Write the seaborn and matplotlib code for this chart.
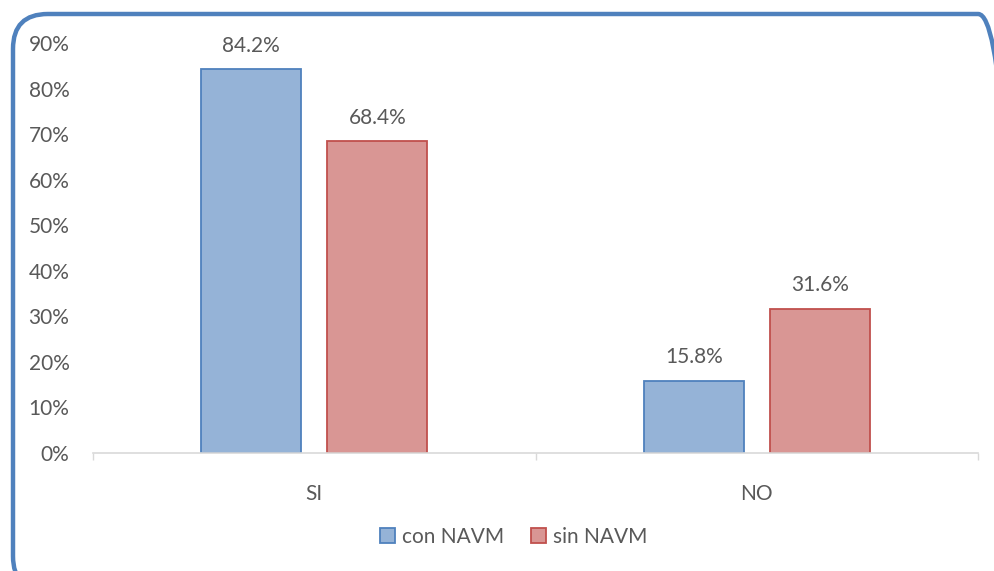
import matplotlib
matplotlib.use("Agg")
import matplotlib.pyplot as plt
from matplotlib.patches import FancyBboxPatch, Patch
from matplotlib.ticker import PercentFormatter, FixedLocator
import seaborn as sns
import pandas as pd

categories = ["SI", "NO"]
series_names = ["con NAVM", "sin NAVM"]
con_navm = [84.2, 15.8]
sin_navm = [68.4, 31.6]
y_ticks = [0, 10, 20, 30, 40, 50, 60, 70, 80, 90]

fills = {"con NAVM": "#95B3D7", "sin NAVM": "#D99694"}
edges = {"con NAVM": "#4F81BD", "sin NAVM": "#C0504D"}
text_color = "#595959"
axis_color = "#D9D9D9"
fs = 15

df = pd.DataFrame({
    "categoria": categories * 2,
    "grupo": [series_names[0]] * 2 + [series_names[1]] * 2,
    "valor": con_navm + sin_navm,
})

sns.set_theme(style="white")
plt.rcParams["font.family"] = ["Lato", "DejaVu Sans"]

fig = plt.figure(figsize=(9.95, 5.71), dpi=100)
ax = fig.add_axes([0.0935, 0.2067, 0.8895, 0.718])

sns.barplot(data=df, x="categoria", y="valor", hue="grupo",
            palette=fills, width=0.57, gap=0.207, ax=ax,
            legend=False, errorbar=None, saturation=1)

# edge colours and value labels per series
for container, name in zip(ax.containers, series_names):
    for bar in container:
        bar.set_edgecolor(edges[name])
        bar.set_linewidth(1.3)
    ax.bar_label(container, labels=[f"{v:.1f}%" for v in container.datavalues],
                 padding=10, fontsize=fs, color=text_color)

ax.set_xlim(-0.5, 1.5)
ax.set_ylim(0, 90)
ax.set_yticks(y_ticks)
ax.yaxis.set_major_formatter(PercentFormatter(decimals=0))
ax.tick_params(axis="y", length=0, pad=17, labelsize=fs, labelcolor=text_color)

# category boundaries as small ticks, labels centred on categories
ax.xaxis.set_major_locator(FixedLocator([-0.5, 0.5, 1.5]))
ax.set_xticklabels(["", "", ""])
ax.xaxis.set_minor_locator(FixedLocator([0, 1]))
ax.set_xticklabels(categories, minor=True)
ax.tick_params(axis="x", which="major", length=5, width=1, color=axis_color, bottom=True)
ax.tick_params(axis="x", which="minor", length=0, pad=22, labelsize=fs, labelcolor=text_color)
ax.set_xlabel("")
ax.set_ylabel("")

for side in ["top", "right", "left"]:
    ax.spines[side].set_visible(False)
ax.spines["bottom"].set_color(axis_color)
ax.spines["bottom"].set_linewidth(1.2)

handles = [Patch(facecolor=fills[n], edgecolor=edges[n], linewidth=1.3) for n in series_names]
fig.legend(handles, series_names, loc="center", bbox_to_anchor=(0.516, 0.06),
           ncol=2, frameon=False, fontsize=fs, labelcolor=text_color,
           handlelength=0.75, handleheight=0.75, handletextpad=0.3, columnspacing=1.3)

# rounded chart frame
frame = FancyBboxPatch((13 / 995, -20 / 571), 1000 / 995, 577 / 571,
                       boxstyle="round,pad=0,rounding_size=0.035",
                       transform=fig.transFigure, fill=False,
                       edgecolor="#4F81BD", linewidth=3.2, clip_on=False,
                       mutation_aspect=995 / 571)
fig.patches.append(frame)

fig.savefig("out.png", dpi=100)
